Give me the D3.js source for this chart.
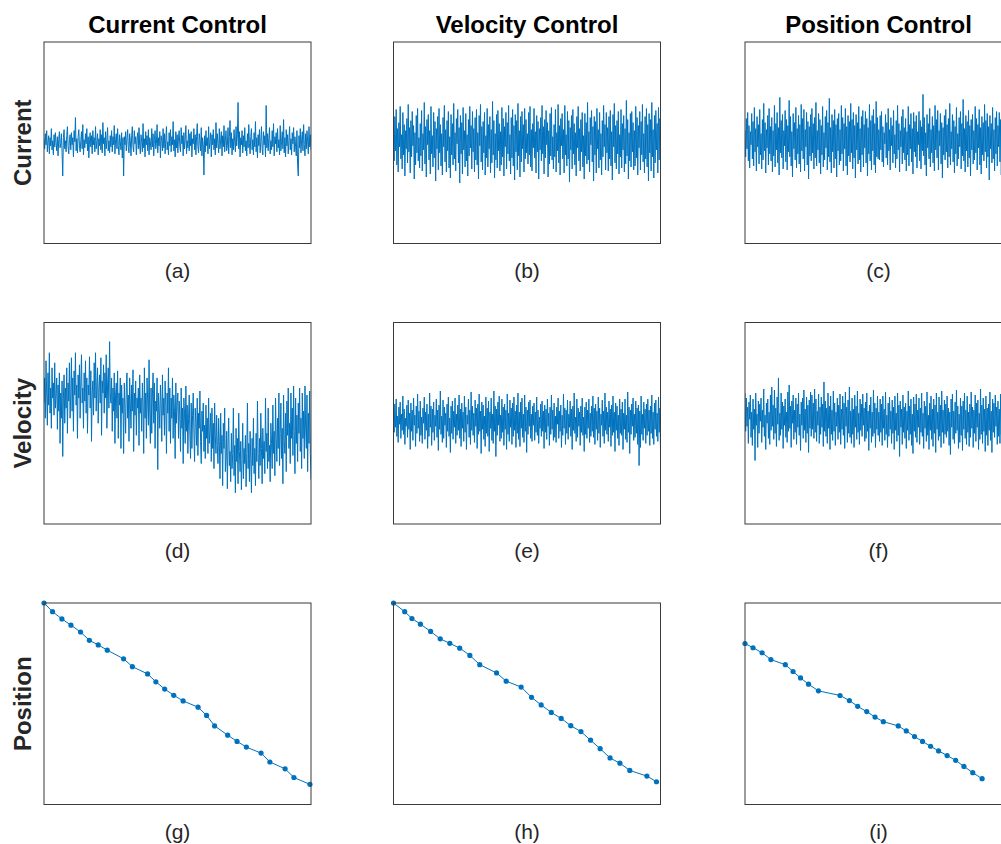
<!DOCTYPE html>
<html>
<head>
<meta charset="utf-8">
<script src="https://cdn.jsdelivr.net/npm/d3@7"></script>
<style>
  html, body { margin: 0; padding: 0; background: #fff; }
  svg { display: block; }
</style>
</head>
<body>
<svg id="chart" width="1001" height="844"></svg>
<script>
// Column and row headings, panel captions
const columnTitles = ["Current Control", "Velocity Control", "Position Control"];
const rowTitles = ["Current", "Velocity", "Position"];
const panelCaptions = ["(a)", "(b)", "(c)", "(d)", "(e)", "(f)", "(g)", "(h)", "(i)"];

// Measured signals (normalised units, hundredths), 400 samples each
const currentUnderCurrent = [
  4,-6,9,-2,12,-9,1,7,-11,5,-3,14,-7,2,-12,8,-4,10,0,-8,
  6,-13,3,11,-5,-1,9,-10,-33,5,13,-6,2,-9,7,16,-4,-11,3,8,
  -7,10,-2,5,-14,12,1,25,-8,4,-10,6,13,-3,-9,2,11,-6,18,-12,
  3,-5,9,-1,14,-8,6,-15,2,10,-4,7,-11,12,-2,5,-9,16,-6,1,
  9,-12,4,-3,13,-7,8,-10,20,-1,5,-13,11,-6,3,15,-8,2,-10,7,
  -4,12,-9,6,-2,17,-11,3,9,-6,14,-3,-12,8,1,-7,10,-15,5,-33,
  6,-2,11,-8,4,13,-5,-10,9,2,-13,7,16,-4,-9,12,-1,6,-12,3,
  10,-6,15,-3,-11,8,1,-9,19,-5,4,-14,11,-2,7,-8,13,-12,5,0,
  -7,14,-4,9,-13,3,12,-6,-1,18,-10,5,-3,11,-15,7,2,-8,14,-5,
  9,-11,4,16,-7,1,-12,10,-3,13,-9,6,-2,21,-8,3,-14,11,-5,8,
  -10,5,12,-4,-9,15,-1,7,-13,10,-6,3,17,-11,2,-5,13,-8,9,-3,
  11,-14,4,-1,14,-7,8,-12,6,19,-4,-10,9,2,-8,15,-13,5,-2,-32,
  7,-9,12,-3,5,-11,16,-6,1,10,-14,8,-2,13,-7,4,-12,20,-5,9,
  -1,-10,14,-6,3,11,-13,7,-4,17,-9,2,12,-8,-3,15,-11,6,22,-5,
  10,-12,4,-7,13,1,-9,16,-3,8,40,-6,11,-14,5,-2,12,-10,7,-4,
  15,-8,2,-13,9,-5,18,-1,-11,6,14,-7,3,-12,10,-4,21,-9,5,-15,
  8,-3,13,-10,1,16,-6,-12,11,-2,7,-14,37,-5,9,-8,4,15,-11,2,
  -7,12,-4,19,-13,6,-1,10,-9,14,-5,3,-12,17,-8,1,11,-6,23,-10,
  5,-14,13,-3,8,-11,2,16,-7,4,-12,10,-1,15,-9,6,-4,-13,12,-22,
  -33,7,-5,14,-10,3,11,-8,18,-2,-13,9,-6,12,1,-11,16,-4,8,-7
];
const currentUnderVelocity = [
  10,-18,26,-8,33,-22,14,-29,20,-4,36,-16,8,-26,30,-12,18,-33,12,-6,
  24,-20,38,-9,15,-30,22,-14,31,-3,17,-36,10,-22,27,-10,34,-18,5,-25,
  19,-13,32,-28,9,-7,40,-21,16,-34,23,-2,28,-17,12,-31,36,-11,7,-24,
  30,-15,21,-38,14,-6,26,-27,34,-10,18,-23,9,-32,25,-4,37,-19,13,-29,
  22,-8,31,-25,6,-35,28,-12,19,-22,39,-16,10,-28,24,-1,33,-20,15,-40,
  27,-11,20,-31,35,-7,12,-24,29,-18,8,-33,23,-13,36,-5,17,-26,31,-9,
  14,-29,25,-17,33,-22,10,-36,27,-3,38,-19,16,-27,21,-10,30,-32,7,-15,
  34,-24,18,-6,26,-30,13,-20,41,-12,22,-35,9,-17,28,-25,32,-8,19,-28,
  11,-22,35,-14,24,-33,16,-4,30,-26,20,-11,37,-18,8,-31,25,-15,33,-23,
  17,-37,28,-9,22,-27,39,-13,12,-34,26,-19,31,-6,18,-29,34,-16,23,-10,
  9,-21,30,-12,36,-24,13,-28,19,-5,34,-15,11,-30,27,-9,21,-36,14,-7,
  25,-18,37,-11,16,-31,23,-15,32,-2,20,-34,12,-21,29,-13,35,-17,6,-26,
  18,-14,33,-29,10,-8,38,-20,17,-32,24,-3,29,-16,13,-30,37,-12,8,-23,
  31,-16,22,-39,15,-7,27,-26,33,-11,19,-22,10,-33,26,-5,36,-18,14,-28,
  23,-9,30,-24,7,-36,29,-13,20,-21,40,-17,11,-29,25,-2,32,-19,16,-38,
  26,-12,21,-30,34,-6,13,-25,30,-17,9,-32,22,-14,37,-4,18,-27,30,-10,
  15,-28,26,-16,32,-23,11,-37,28,-4,39,-20,17,-26,22,-11,31,-31,8,-14,
  33,-25,19,-7,27,-29,14,-21,42,-13,23,-36,10,-18,29,-24,31,-9,20,-27,
  12,-23,36,-15,25,-32,17,-5,31,-27,21,-12,38,-19,9,-30,26,-16,34,-24,
  18,-38,29,-10,23,-28,40,-14,13,-35,27,-20,32,-7,19,-30,35,-17,24,-11
];
const currentUnderPosition = [
  12,-14,24,-6,30,-18,17,-25,11,-2,29,-16,21,-23,35,-9,14,-28,26,-4,
  18,-21,33,-12,9,-26,23,-17,39,-8,20,-30,13,-5,27,-22,34,-11,16,-18,
  25,-29,12,-13,37,-24,19,-7,30,-20,15,-32,45,-10,22,-15,28,-26,12,-3,
  32,-19,23,-27,17,-9,42,-14,26,-23,11,-34,29,-6,20,-17,35,-25,14,-11,
  27,-21,18,-29,38,-8,24,-16,33,-28,13,-4,30,-22,21,-36,16,-13,28,-18,
  34,-10,19,-26,25,-15,40,-23,12,-7,29,-20,23,-31,17,-12,36,-24,10,-17,
  26,-5,32,-27,20,-14,44,-19,15,-30,28,-9,22,-25,33,-16,18,-34,24,-8,
  29,-22,13,-18,37,-11,25,-28,19,-6,34,-23,16,-32,27,-13,21,-19,39,-10,
  23,-26,30,-15,17,-35,28,-7,20,-21,36,-17,14,-29,26,-12,32,-24,18,-5,
  31,-20,24,-33,15,-11,38,-18,22,-27,27,-8,33,-22,19,-30,41,-14,25,-16,
  13,-17,27,-7,31,-19,16,-24,10,-1,28,-15,20,-22,34,-8,13,-27,25,-3,
  17,-20,32,-11,8,-25,22,-16,37,-7,19,-29,12,-4,26,-21,33,-10,15,-17,
  24,-28,11,-12,36,-23,18,-6,29,-19,14,-31,30,-9,21,-14,27,-25,11,-2,
  31,-18,22,-26,16,-8,48,-13,25,-22,10,-33,28,-5,19,-16,34,-24,13,-10,
  26,-20,17,-28,37,-7,23,-15,32,-27,12,-3,29,-21,20,-35,15,-12,27,-17,
  33,-9,18,-25,24,-14,39,-22,11,-6,28,-19,22,-30,16,-11,35,-23,9,-16,
  25,-4,31,-26,19,-13,43,-18,14,-29,27,-8,21,-24,32,-15,17,-33,23,-7,
  28,-21,12,-17,36,-10,24,-27,18,-5,33,-22,15,-31,26,-12,20,-18,38,-9,
  22,-25,29,-14,16,-37,27,-6,19,-20,35,-16,13,-28,25,-11,31,-23,17,-4,
  30,-19,23,-32,14,-10,37,-17,21,-26,26,-7,32,-21,18,-29,40,-13,24,-15
];
const velocityUnderCurrent = [
  20,45,5,62,30,-2,50,18,70,10,35,-5,55,25,40,8,60,15,28,45,
  -6,38,12,50,-20,30,5,42,-33,25,48,0,35,15,55,-10,40,22,60,5,
  30,65,12,45,-8,52,28,70,18,38,-15,48,25,58,5,40,68,20,35,-5,
  50,22,62,10,45,-10,38,28,66,15,52,-18,30,42,8,60,25,70,12,40,
  55,0,35,48,20,65,-12,42,30,58,10,50,25,68,-5,38,55,15,81,30,
  20,45,-8,35,12,50,-20,28,40,5,52,-15,30,18,45,-25,38,10,25,-30,
  40,15,-10,35,50,5,28,-18,45,20,-5,38,12,53,-28,30,8,42,-12,25,
  15,35,-22,48,10,25,-8,40,18,-30,55,5,30,-15,45,20,-2,63,10,-20,
  35,-10,28,50,0,40,-25,22,12,45,-46,30,15,-5,38,20,-18,48,8,25,
  -12,42,18,-30,30,10,55,-8,35,-20,25,5,45,-15,28,12,-35,40,0,20,
  30,-15,22,8,-28,35,-5,15,-40,25,10,-20,37,-8,18,-30,5,28,-12,-35,
  20,-25,8,30,-10,-38,15,0,-22,25,-32,10,-5,32,-18,-40,12,-8,20,-28,
  -2,-35,18,-15,5,-30,25,-20,-8,10,-38,15,-25,0,-45,20,-12,-30,8,-22,
  -40,5,-18,-55,10,-30,-12,-62,0,-25,15,-48,-35,-8,-65,-20,5,-42,-28,-58,
  -10,-45,-30,15,-52,-22,-69,-5,-38,-15,-60,10,-28,-48,-18,-66,-35,0,-55,-25,
  -40,-12,-63,-30,20,-45,-20,-58,-8,-35,-69,-15,-42,5,-50,-25,-62,-10,-38,22,
  -30,-55,-15,-42,10,-25,-60,-5,-35,-18,-50,25,-28,-10,-45,15,-38,-22,-58,0,
  -20,-45,18,-30,-8,-52,25,-15,-38,5,-25,30,-42,-10,20,-35,-5,-60,28,-18,
  -30,10,-48,22,-12,35,-25,0,-40,30,-15,15,-32,37,-8,-50,25,-20,8,-38,
  20,-10,35,-28,5,-45,30,-15,12,-35,37,-5,-25,28,-48,10,-20,32,-30,-56
];
const velocityUnderVelocity = [
  11,-9,19,-4,24,-13,7,-19,16,-1,21,-15,9,-7,27,-11,14,-21,5,-3,
  18,-14,23,-6,10,-26,20,-8,13,-17,25,-2,8,-23,17,-10,29,-5,12,-18,
  22,-12,6,-20,15,0,26,-16,11,-7,19,-25,9,-13,30,-4,17,-22,14,-9,
  21,-17,8,-3,24,-14,13,-27,18,-6,32,-11,7,-19,23,-15,16,-2,10,-24,
  19,-8,26,-13,5,-29,17,-10,22,-16,12,-4,25,-20,9,-12,18,-7,28,-15,
  14,-23,20,-5,11,-18,27,-9,16,-26,8,-1,24,-14,13,-21,31,-7,17,-12,
  10,-19,23,-3,15,-25,19,-11,29,-8,12,-30,21,-6,18,-16,7,-23,26,-10,
  15,-13,22,-28,11,-5,25,-17,9,-20,32,-8,17,-33,14,-12,21,-2,27,-18,
  8,-15,24,-9,16,-22,19,-6,13,-26,29,-11,10,-18,23,-4,15,-21,20,-13,
  26,-7,12,-24,18,-10,30,-16,11,-23,21,-5,25,-14,9,-19,28,-8,16,-29,
  13,-11,21,-3,23,-15,9,-18,17,-2,20,-17,11,-9,26,-12,13,-20,6,-5,
  19,-13,22,-8,12,-25,18,-9,14,-16,24,-3,10,-22,16,-11,28,-6,13,-17,
  20,-14,7,-19,16,-1,25,-15,12,-8,18,-24,8,-12,29,-5,15,-21,13,-10,
  23,-16,9,-4,22,-13,14,-26,17,-7,30,-10,6,-18,24,-14,15,-3,11,-22,
  17,-9,25,-12,6,-28,16,-11,21,-15,13,-5,24,-19,10,-13,17,-8,27,-14,
  15,-21,19,-6,12,-17,26,-10,15,-24,9,-2,23,-13,12,-20,30,-7,16,-11,
  11,-18,22,-4,14,-23,18,-12,27,-9,11,-28,20,-7,17,-15,8,-22,24,-10,
  14,-12,21,-26,10,-6,24,-16,8,-19,31,-9,16,-30,13,-11,19,-3,25,-17,
  9,-14,22,-10,15,-21,18,-42,12,-24,27,-11,9,-17,21,-5,14,-20,19,-12,
  24,-8,13,-22,17,-10,28,-15,11,-21,20,-6,23,-13,10,-18,26,-9,15,-27
];
const velocityUnderPosition = [
  30,-8,25,-3,16,-20,21,4,28,-14,11,-22,24,-6,14,-37,30,-2,9,-24,
  22,-10,19,2,25,-19,13,-4,34,-13,8,-26,20,0,24,-15,11,-21,28,-7,
  36,-3,18,-16,33,-10,15,-23,26,-1,45,-17,10,-12,30,-6,21,-25,17,-2,
  24,-14,11,-19,31,-8,38,-5,17,-24,22,0,28,-16,13,-9,25,-21,19,-4,
  30,-12,9,-27,21,-2,25,-15,33,-7,14,-19,26,-10,18,-29,23,-5,31,-13,
  28,-6,20,-15,34,-9,24,-18,12,-2,29,-20,16,-11,26,-4,19,-23,41,-8,
  22,-13,15,-20,30,-5,17,-26,27,-11,13,-17,32,-8,20,-22,11,-3,25,-16,
  18,-9,29,-21,14,-6,27,-12,20,-25,31,-3,16,-19,23,-10,36,-14,12,-20,
  25,-11,14,-24,28,-4,17,-16,32,-9,10,-21,24,-7,19,-13,29,-2,15,-18,
  21,-15,30,-8,12,-27,18,-5,26,-19,11,-13,33,-10,20,-24,15,-6,27,-12,
  11,-18,24,-9,19,-22,27,-5,14,-17,31,-11,8,-24,20,-13,26,-6,12,-20,
  23,-10,16,-26,27,-7,10,-18,30,-12,18,-33,22,-4,14,-21,28,-9,16,-15,
  20,-25,12,-7,32,-17,17,-11,24,-22,9,-30,26,-8,19,-14,29,-19,13,-4,
  25,-21,15,-9,30,-13,10,-25,22,-5,17,-18,31,-12,8,-26,20,-7,27,-16,
  14,-23,24,-10,18,-29,30,-6,11,-17,26,-13,18,-24,32,-9,13,-20,23,-11,
  19,-14,27,-8,15,-22,11,-31,24,-4,29,-16,12,-20,21,-10,33,-7,17,-25,
  9,-19,25,-12,17,-27,22,-6,30,-15,13,-21,27,-9,11,-23,19,-14,31,-5,
  16,-24,13,-10,28,-18,20,-4,23,-26,10,-16,34,-11,18,-20,25,-8,14,-28,
  27,-12,15,-22,19,-7,31,-17,12,-29,24,-9,20,-14,28,-3,16,-21,22,-13,
  14,-20,29,-11,18,-25,23,-8,33,-15,11,-19,26,-6,17,-23,21,-12,9,-36
];

// Sampled positions: time (% of run) and position (% of travel)
const posCurrentT = [0,3.2,6.7,10.1,13.7,17.0,20.3,23.7,29.8,33.1,38.8,41.9,45.2,48.6,52.1,57.7,60.9,63.9,68.8,72.3,75.8,81.3,84.6,90.3,93.6,99.6];
const posCurrentY = [100,95.7,92.1,89.0,85.6,81.5,79.2,76.6,72.3,68.4,64.8,60.9,57.3,54.2,51.4,48.3,44.2,39.0,34.4,31.3,28.5,25.5,21.1,17.7,13.4,10.0];
const posVelocityT = [0,4.2,6.9,10.1,13.9,17.5,21.1,24.8,28.6,32.3,38.6,42.2,47.8,51.7,55.3,59.1,62.8,66.4,70.2,73.8,77.4,81.1,84.8,88.5,94.9,98.5];
const posVelocityY = [100,95.7,92.3,89.5,85.9,82.2,80.0,77.6,74.0,69.4,65.3,61.2,58.3,53.2,49.4,45.7,42.7,39.1,36.2,31.9,27.7,23.1,20.5,16.9,14.1,11.3];
const posPositionT = [0,3.0,6.4,9.7,15.1,18.0,20.8,23.8,27.5,35.6,39.1,42.2,45.6,48.7,51.8,57.4,60.4,63.5,66.5,69.5,72.5,75.7,78.9,82.0,85.3,88.8];
const posPositionY = [79.9,77.8,75.3,71.9,69.4,66.0,62.8,59.7,56.4,54.1,51.6,48.7,46.1,43.4,41.1,39.0,36.5,33.7,31.3,28.9,26.6,24.3,21.9,18.9,15.8,12.8];

// ---- layout ----
const BLUE = "#0072BD";
const FONT = "'Liberation Sans', Arial, Helvetica, sans-serif";
const colLeft = [44, 393.5, 745];
const rowTop = [42, 322.5, 603];
const panelW = 267, panelH = 201.5;

const svg = d3.select("#chart");
const defs = svg.append("defs");

const noiseRows = [
  [currentUnderCurrent, currentUnderVelocity, currentUnderPosition],
  [velocityUnderCurrent, velocityUnderVelocity, velocityUnderPosition]
];
const posRow = [
  [posCurrentT, posCurrentY],
  [posVelocityT, posVelocityY],
  [posPositionT, posPositionY]
];

for (let r = 0; r < 3; r++) {
  for (let c = 0; c < 3; c++) {
    const x0 = colLeft[c], y0 = rowTop[r];
    const id = `clip-${r}-${c}`;
    defs.append("clipPath").attr("id", id)
      .append("rect").attr("x", x0).attr("y", y0).attr("width", panelW).attr("height", panelH);
    const g = svg.append("g");

    if (r < 2) {
      const vals = noiseRows[r][c];
      const x = d3.scaleLinear().domain([0, vals.length - 1]).range([x0, x0 + panelW]);
      const y = d3.scaleLinear().domain([-100, 100]).range([y0 + panelH, y0]);
      const line = d3.line().x((d, i) => x(i)).y(d => y(d));
      g.append("path")
        .attr("clip-path", `url(#${id})`)
        .attr("d", line(vals))
        .attr("fill", "none")
        .attr("stroke", BLUE)
        .attr("stroke-width", 1)
        .attr("stroke-linejoin", "round");
    } else {
      const [ts, ys] = posRow[c];
      const pts = ts.map((t, i) => ({ t, v: ys[i] }));
      const x = d3.scaleLinear().domain([0, 100]).range([x0, x0 + panelW]);
      const y = d3.scaleLinear().domain([0, 100]).range([y0 + panelH, y0]);
      const line = d3.line().x(d => x(d.t)).y(d => y(d.v));
      g.append("path")
        .attr("d", line(pts))
        .attr("fill", "none")
        .attr("stroke", BLUE)
        .attr("stroke-width", 1);
      g.selectAll("circle").data(pts).join("circle")
        .attr("cx", d => x(d.t))
        .attr("cy", d => y(d.v))
        .attr("r", 2.6)
        .attr("fill", BLUE);
    }

    // axes box
    svg.append("rect")
      .attr("x", x0).attr("y", y0)
      .attr("width", panelW).attr("height", panelH)
      .attr("fill", "none")
      .attr("stroke", "#3a3a3a")
      .attr("stroke-width", 1);

    // caption below
    svg.append("text")
      .attr("x", x0 + panelW / 2)
      .attr("y", y0 + panelH + 34)
      .attr("text-anchor", "middle")
      .attr("font-family", FONT)
      .attr("font-size", 21)
      .attr("fill", "#262626")
      .text(panelCaptions[r * 3 + c]);
  }
}

// column headings
columnTitles.forEach((t, c) => {
  svg.append("text")
    .attr("x", colLeft[c] + panelW / 2)
    .attr("y", 33)
    .attr("text-anchor", "middle")
    .attr("font-family", FONT)
    .attr("font-weight", "bold")
    .attr("font-size", 24)
    .attr("fill", "#000")
    .text(t);
});

// row headings
rowTitles.forEach((t, r) => {
  const cy = rowTop[r] + panelH / 2;
  svg.append("text")
    .attr("transform", `translate(31,${cy}) rotate(-90)`)
    .attr("text-anchor", "middle")
    .attr("font-family", FONT)
    .attr("font-weight", "bold")
    .attr("font-size", 24)
    .attr("fill", "#262626")
    .text(t);
});
</script>
</body>
</html>
